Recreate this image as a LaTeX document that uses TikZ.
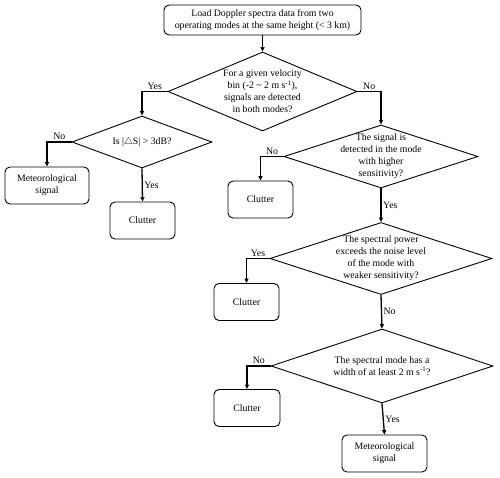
\documentclass[tikz,border=0pt]{standalone}
\usepackage{fontspec}
\setmainfont{Liberation Serif}
\usetikzlibrary{shapes.geometric,arrows.meta}

\tikzset{
  startbox/.style={draw, rounded corners=5pt, line width=0.9pt, align=center,
    minimum width=197pt, minimum height=30pt, inner sep=0pt},
  endbox/.style={draw, rounded corners=5pt, line width=0.9pt, align=center,
    minimum height=37pt, inner sep=0pt},
  decision/.style={draw, diamond, line width=0.9pt, align=center, inner sep=-40pt},
  arr/.style={-{Triangle[length=4.5pt,width=4pt]}, line width=1.3pt},
  lab/.style={inner sep=1.5pt},
}

\begin{document}
\begin{tikzpicture}[x=1pt,y=1pt,font=\fontsize{9.8}{12}\selectfont]
  \useasboundingbox (0,0) rectangle (500,-477);

  \node [startbox] (load) at (262.5,-20)
    {Load Doppler spectra data from two\\operating modes at the same height (< 3 km)};

  \node [decision, minimum width=189pt, minimum height=79pt] (both) at (262.5,-91.5)
    {For a given velocity\\bin (-2 \textasciitilde\ 2 m s\textsuperscript{-1}),\\signals are detected\\in both modes?};
  \node [decision, minimum width=140pt, minimum height=52pt] (diff) at (142,-142)
    {Is |$\triangle$S| > 3dB?};
  \node [decision, minimum width=194pt, minimum height=63pt] (high) at (381,-156.5)
    {The signal is\\detected in the mode\\with higher\\sensitivity?};
  \node [decision, minimum width=222pt, minimum height=72pt] (noise) at (381,-258.5)
    {The spectral power\\exceeds the noise level\\of the mode with\\weaker sensitivity?};
  \node [decision, minimum width=222pt, minimum height=74pt] (width) at (382,-366)
    {The spectral mode has a\\width of at least 2 m s\textsuperscript{-1}?};

  \node [endbox, minimum width=84pt] (met1) at (47,-185.5) {Meteorological\\signal};
  \node [endbox, minimum width=65pt] (clut1) at (142.5,-220.5) {Clutter};
  \node [endbox, minimum width=65pt] (clut2) at (260.5,-199.5) {Clutter};
  \node [endbox, minimum width=65pt] (clut3) at (246.5,-302) {Clutter};
  \node [endbox, minimum width=66pt] (clut4) at (247,-408) {Clutter};
  \node [endbox, minimum width=85pt] (met2) at (384.5,-453.5) {Meteorological\\signal};

  \draw [arr] (load) -- (both);
  \draw [arr] (both.west) -| node [lab, pos=0.25, above] {Yes} (diff.north);
  \draw [arr] (both.east) -| node [lab, pos=0.25, above] {No} (high.north);
  \draw [arr] (diff.west) -| node [lab, pos=0.25, above] {No} (met1.north);
  \draw [arr] (diff.south) -- node [lab, right] {Yes} (clut1.north);
  \draw [arr] (high.west) -| node [lab, pos=0.25, above] {No} (clut2.north);
  \draw [arr] (high.south) -- node [lab, right] {Yes} (noise.north);
  \draw [arr] (noise.west) -| node [lab, pos=0.25, above] {Yes} (clut3.north);
  \draw [arr] (noise.south) -- node [lab, right] {No} (width.north);
  \draw [arr] (width.west) -| node [lab, pos=0.25, above] {No} (clut4.north);
  \draw [arr] (width.south) -- node [lab, right] {Yes} (met2.north);
\end{tikzpicture}
\end{document}
